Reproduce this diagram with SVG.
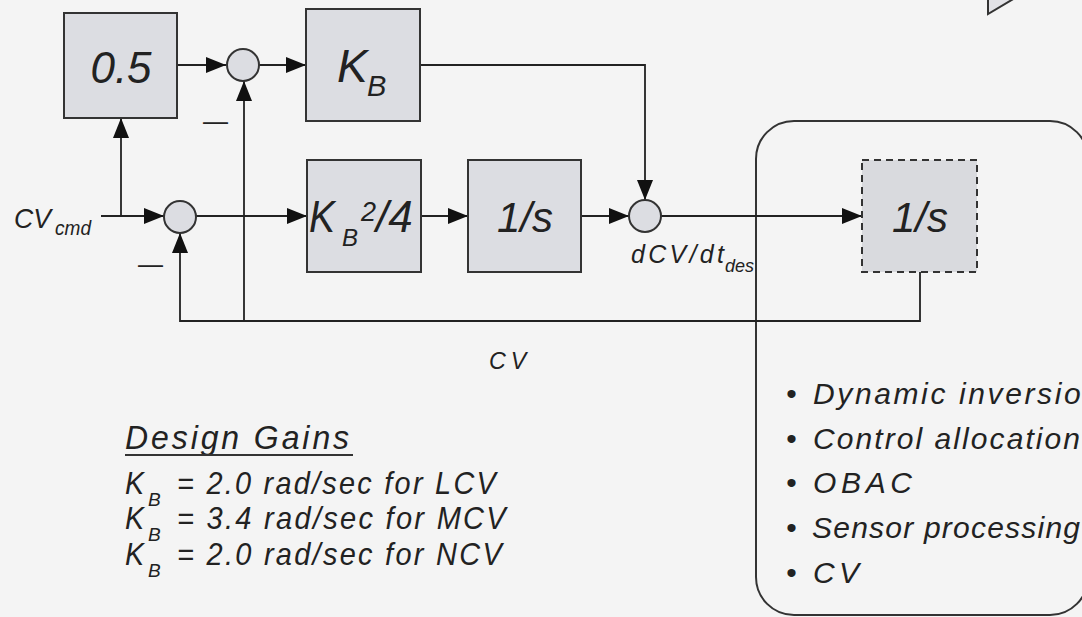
<svg xmlns="http://www.w3.org/2000/svg" width="1082" height="617" viewBox="0 0 1082 617">
<defs>
<style>
.t{font-family:"Liberation Sans",Arial,Helvetica,sans-serif;font-style:italic;fill:#222}
.box{fill:#dcdde2;stroke:#333;stroke-width:2}
.dash{fill:#d9dade;stroke:#333;stroke-width:2;stroke-dasharray:7 5}
.sum{fill:#dcdde2;stroke:#333;stroke-width:2}
.wire{fill:none;stroke:#222;stroke-width:1.8}
.frame{fill:none;stroke:#333;stroke-width:2}
.arr{marker-end:url(#ah)}
</style>
<marker id="ah" markerUnits="userSpaceOnUse" markerWidth="20" markerHeight="16" refX="20" refY="8" orient="auto">
<path d="M0,0 L20,8 L0,16 z" fill="#111"/>
</marker>
</defs>
<rect x="0" y="0" width="1082" height="617" fill="#f4f4f4"/>

<g id="corner-shape">
<polygon points="988,-2 988,14 1015,-2" fill="#e2e2e6" stroke="#333" stroke-width="2"/>
</g>

<g id="inner-loop-frame">
<rect class="frame" x="756" y="121" width="332" height="494" rx="38" ry="38"/>
</g>

<g id="connectors">
<path class="wire arr" d="M177,65 H226"/>
<path class="wire arr" d="M259,65 H306"/>
<path class="wire arr" d="M420,65 H645 V200"/>
<path class="wire arr" d="M101,216 H164"/>
<path class="wire arr" d="M121,216 V118"/>
<path class="wire arr" d="M196,216 H307"/>
<path class="wire arr" d="M421,216 H468"/>
<path class="wire arr" d="M581,216 H629"/>
<path class="wire arr" d="M661,216 H862"/>
<path class="wire arr" d="M920,272 V321 H180 V233"/>
<path class="wire arr" d="M244,321 V81"/>
</g>

<g id="gain-half">
<rect class="box" x="64" y="13" width="113" height="105"/>
<text class="t" x="121" y="83" font-size="44" text-anchor="middle">0.5</text>
</g>

<g id="sum1">
<circle class="sum" cx="243" cy="65" r="16"/>
<text x="203" y="130" font-family="Liberation Sans,Arial,sans-serif" font-size="25" fill="#222">—</text>
</g>

<g id="gain-kb">
<rect class="box" x="306" y="9" width="114" height="112"/>
<text class="t" x="337" y="82" font-size="46">K</text>
<text class="t" x="367" y="96" font-size="29">B</text>
</g>

<g id="sum2">
<circle class="sum" cx="180" cy="217" r="16"/>
<text x="138" y="273" font-family="Liberation Sans,Arial,sans-serif" font-size="25" fill="#222">—</text>
</g>

<g id="gain-kb2">
<rect class="box" x="307" y="160" width="114" height="112"/>
<text class="t" x="309" y="232" font-size="44" textLength="26" lengthAdjust="spacingAndGlyphs">K</text>
<text class="t" x="342" y="246" font-size="24">B</text>
<text class="t" x="361" y="221" font-size="27">2</text>
<text class="t" x="376" y="232" font-size="44">/4</text>
</g>

<g id="integrator1">
<rect class="box" x="468" y="160" width="113" height="112"/>
<text class="t" x="525" y="232" font-size="42" text-anchor="middle">1/s</text>
</g>

<g id="sum3">
<circle class="sum" cx="645" cy="216" r="16"/>
</g>

<g id="integrator2">
<rect class="dash" x="862" y="160" width="115" height="112"/>
<text class="t" x="920" y="232" font-size="42" text-anchor="middle">1/s</text>
</g>

<g id="labels">
<text class="t" x="14" y="228" font-size="28" textLength="37" lengthAdjust="spacingAndGlyphs">CV</text>
<text class="t" x="55" y="235" font-size="20" textLength="36" lengthAdjust="spacingAndGlyphs">cmd</text>
<text class="t" x="631" y="263" font-size="25" textLength="93" lengthAdjust="spacing">dCV/dt</text>
<text class="t" x="725" y="272" font-size="18">des</text>
<text class="t" x="489" y="369" font-size="24" letter-spacing="5" textLength="42" lengthAdjust="spacingAndGlyphs">CV</text>
</g>

<g id="design-gains">
<text class="t" x="125" y="449" font-size="33" letter-spacing="3" textLength="227" lengthAdjust="spacingAndGlyphs">Design Gains</text>
<line x1="125" y1="455" x2="353" y2="455" stroke="#333" stroke-width="2"/>
<text class="t" x="125" y="494" font-size="32" textLength="19" lengthAdjust="spacingAndGlyphs">K</text>
<text class="t" x="148" y="506" font-size="19">B</text>
<text class="t" x="177" y="494" font-size="32" letter-spacing="2.5" textLength="321" lengthAdjust="spacingAndGlyphs">= 2.0 rad/sec for LCV</text>
<text class="t" x="125" y="529" font-size="32" textLength="19" lengthAdjust="spacingAndGlyphs">K</text>
<text class="t" x="148" y="541" font-size="19">B</text>
<text class="t" x="177" y="529" font-size="32" letter-spacing="2.5" textLength="331" lengthAdjust="spacingAndGlyphs">= 3.4 rad/sec for MCV</text>
<text class="t" x="125" y="565" font-size="32" textLength="19" lengthAdjust="spacingAndGlyphs">K</text>
<text class="t" x="148" y="577" font-size="19">B</text>
<text class="t" x="177" y="565" font-size="32" letter-spacing="2.5" textLength="327" lengthAdjust="spacingAndGlyphs">= 2.0 rad/sec for NCV</text>
</g>

<g id="inner-loop-list">
<text class="t" x="786" y="404" font-size="30" font-style="normal">•</text>
<text class="t" x="813" y="404" font-size="30" textLength="287" lengthAdjust="spacing">Dynamic inversion</text>
<text class="t" x="786" y="449" font-size="30" font-style="normal">•</text>
<text class="t" x="813" y="449" font-size="30" textLength="267" lengthAdjust="spacing">Control allocation</text>
<text class="t" x="786" y="493" font-size="30" font-style="normal">•</text>
<text class="t" x="813" y="493" font-size="30" textLength="99" lengthAdjust="spacing">OBAC</text>
<text class="t" x="786" y="538" font-size="30" font-style="normal">•</text>
<text class="t" x="812" y="538" font-size="30" textLength="268" lengthAdjust="spacing">Sensor processing</text>
<text class="t" x="786" y="583" font-size="30" font-style="normal">•</text>
<text class="t" x="813" y="583" font-size="30" textLength="46" lengthAdjust="spacing">CV</text>
</g>
</svg>
